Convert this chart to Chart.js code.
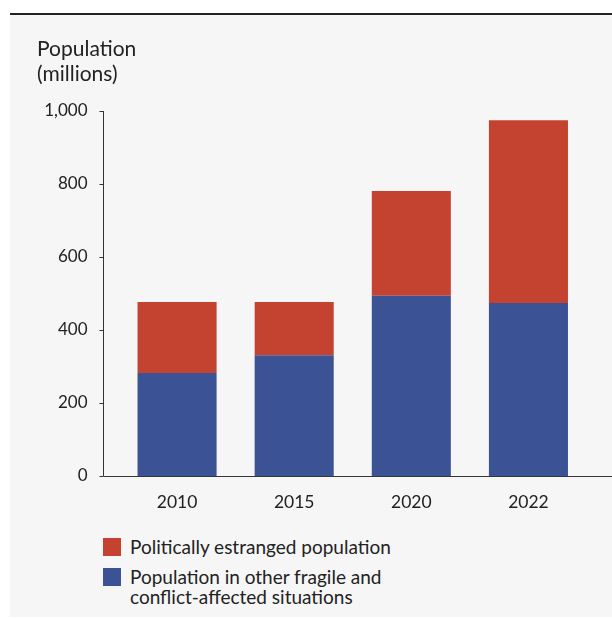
<!DOCTYPE html>
<html>
<head>
<meta charset="utf-8">
<title>Population in fragile and conflict-affected situations</title>
<script src="https://cdn.jsdelivr.net/npm/chart.js@4.4.1/dist/chart.umd.min.js"></script>
<style>
  body { margin: 0; background: #fff; font-family: Lato, "Open Sans", sans-serif; color: #222; }
  #panel { position: absolute; left: 10px; top: 13px; width: 602px; height: 602px;
           background: #f6f6f6; border-top: 2px solid #222; }
  #wrap { position: absolute; left: 0; top: 0; width: 602px; height: 517px; }
  #legend { position: absolute; left: 93px; top: 522px; font-size: 19px; line-height: 20px; }
  .item { position: relative; padding-left: 27px; margin-bottom: 10px; }
  .sw { position: absolute; left: 0; top: 1px; width: 18px; height: 18px; }
</style>
</head>
<body>
<div id="panel">
  <div id="wrap"><canvas id="myChart"></canvas></div>
  <div id="legend"></div>
</div>
<script>
  const years = ['2010', '2015', '2020', '2022'];
  const otherFragile = [282, 331, 494, 474];
  const estranged = [195, 146, 287, 501];
  const seriesNames = ['Population in other fragile and conflict-affected situations', 'Politically estranged population'];
  const legendLines = [['Politically estranged population'], ['Population in other fragile and', 'conflict-affected situations']];
  const blue = '#3b5294';
  const red = '#c44330';

  // axis lines drawn a little left of the plot, like the original
  const axisLines = {
    id: 'axisLines',
    afterDraw(chart) {
      const ctx = chart.ctx;
      const y = chart.scales.y;
      const area = chart.chartArea;
      const ax = Math.round(area.left - 15.5) + 0.5;
      ctx.save();
      ctx.strokeStyle = '#333';
      ctx.lineWidth = 1;
      ctx.beginPath();
      ctx.moveTo(ax, y.getPixelForValue(1000));
      ctx.lineTo(ax, y.getPixelForValue(0));
      y.ticks.forEach(t => {
        const py = Math.round(y.getPixelForValue(t.value)) + 0.5;
        ctx.moveTo(ax - 4, py);
        ctx.lineTo(ax, py);
      });
      const by = Math.round(y.getPixelForValue(0)) + 0.5;
      ctx.moveTo(ax, by);
      ctx.lineTo(chart.width, by);
      ctx.stroke();
      ctx.restore();
    }
  };

  const myChart = new Chart(document.getElementById('myChart'), {
    type: 'bar',
    data: {
      labels: years,
      datasets: [
        { label: seriesNames[0], data: otherFragile, backgroundColor: blue },
        { label: seriesNames[1], data: estranged, backgroundColor: red }
      ]
    },
    options: {
      responsive: true,
      maintainAspectRatio: false,
      animation: false,
      layout: { padding: { left: 27, right: 25, top: 21.4, bottom: 4 } },
      datasets: { bar: { barPercentage: 0.675, categoryPercentage: 1 } },
      plugins: {
        legend: { display: false },
        tooltip: { enabled: false },
        title: {
          display: true,
          text: ['Population', '(millions)'],
          align: 'start',
          color: '#222',
          font: { family: 'Lato', size: 21, weight: 'normal', lineHeight: 1.2 },
          padding: { top: 0, bottom: 24.2 }
        }
      },
      scales: {
        x: {
          stacked: true,
          grid: { display: false, drawTicks: false },
          border: { display: false },
          ticks: { color: '#222', padding: 15.5, font: { family: 'Lato', size: 17.5 } }
        },
        y: {
          stacked: true,
          min: 0,
          max: 1000,
          afterFit(scale) { scale.width = 81.5; },
          grid: { display: false, drawTicks: false },
          border: { display: false },
          ticks: { stepSize: 200, color: '#222', padding: 31, font: { family: 'Lato', size: 17 } }
        }
      }
    },
    plugins: [axisLines]
  });

  const legend = document.getElementById('legend');
  [red, blue].forEach((c, i) => {
    const d = document.createElement('div');
    d.className = 'item';
    d.innerHTML = '<span class="sw" style="background:' + c + '"></span>' + legendLines[i].join('<br>');
    legend.appendChild(d);
  });
</script>
</body>
</html>
